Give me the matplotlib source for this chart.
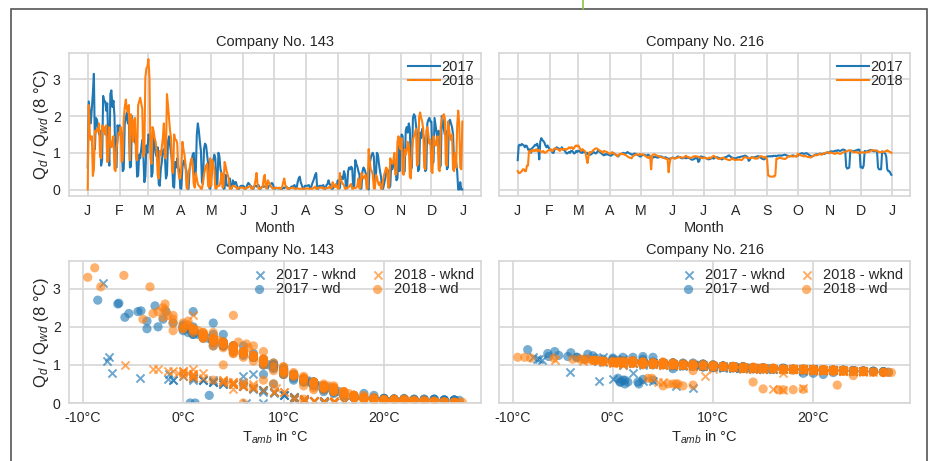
import numpy as np
import pandas as pd
import matplotlib
matplotlib.use("Agg")
import matplotlib.pyplot as plt
from matplotlib.ticker import FuncFormatter
from matplotlib.patches import Rectangle
from matplotlib.lines import Line2D

plt.rcParams.update({
    "font.family": ["Liberation Sans", "DejaVu Sans"],
    "font.size": 10.5,
    "xtick.labelsize": 10.2,
    "ytick.labelsize": 10.2,
    "mathtext.fontset": "custom",
    "mathtext.rm": "Liberation Sans",
    "mathtext.it": "Liberation Sans:italic",
    "mathtext.bf": "Liberation Sans:bold",
    "text.color": "#262626",
    "axes.labelcolor": "#262626",
    "xtick.color": "#262626",
    "ytick.color": "#262626",
    "xtick.major.size": 0,
    "ytick.major.size": 0,
    "xtick.major.pad": 6,
    "ytick.major.pad": 6,
})

# daily values, one line per month (Jan .. Dec)
temp_2017 = np.array("""
2 1 3 4 -2 -6.4 -8 -7.6 -3.6 0 2 4 3 1 -7.1 -2.8 -1.7 -4.5 -3.6 -5.4 -7.4 -4.3 -6.5 -8.5 -5.8 -4.2 -2.5 -1 1 2 3
2 3 4 5 3 1 0 -1 1 0.5 -1 -1.5 0 2 4 6 7 8 7 9 10 8 6 9 10 8 7 9
6 5 7 8 6 5 7 9 10 8 11 12 13 11 9 8 10 9 7 6 5 7 9 11 12 13 11 12 10 12 13
14 15 12 11 10 12 13 15 16 13 11 10 9 8 7 6 5 3 4 6 8 10 11 8 6 7 9 11 13 15
14 12 10 9 10 12 11 9 10 12.5 14 15 19 17 14.5 20 22 21 15.5 14 15 18 20 19 16 21 24 25 26 24 20
21 23 24 22 19 17 18 20 22 23 24 22 21 24 23 20 22 25 27 27.5 27 26 22 19 20 21 19 17 16 18
19 20 22 24 26 27 26 25 24 23 25 21 19 20 21 22 24 26 27 25 22 20 19 17 15 14 17 19 21 23 24
25 23 21 20 19 18 17 16 15 14 13.5 16 18 20 22 21 20 19 21 20 18 17 15 17 19 22 24 26 27 25 20
16 15 14 15 14 15 13 14 13 14 13 12 13 12 12.5 12 11 10 11 12 13 14 15 14 13 12 13 14 15 13
14 11 10 9 8.5 9 10 9 8 9 11 13 15 17 18 17 15 13 12 13 12 11 10 12 11 10 11 9 8 7 9
7 5 5 6 5 4 3 4 2 3 4 3 1 0 1 2 3 4 3 4 5 3 4 5 4 3 2 1 0 1
1 0 -1.4 0.5 2 4 5 3 2 1 0 1 3 4 3 4 2 1.2 0.8 1.5 2.5 4 6 7 8 6 0.7 1.2 2.6 6.3 8
""".split(), dtype=float)

temp_2018 = np.array("""
6 5 7 8 6.5 5 4.5 5.5 6.3 3.5 3.9 2 1 0 2 4 3 5 2 1 0.5 3 6 8 7 5 6 7 8 6 4
3 2 1 0 -1 -2 -1.8 -1 0 1 2 0.5 1.5 5 2 1 0 -0.5 -1.5 -2.5 -2 -3 -4 -3 -5.8 -8.2 -9.5 -5.9
-8.8 -3.3 -1 1 2 3 5 6 8 9.2 10 9 10 8 5 2 -1.5 -2.5 -1.8 -1 1 3 5 6 7 4 5 6 7 9 10
9 8 6 8 10 12 15 18 14 13 11 10 12 11 13 14 16 19 21 22 23 24 18 15 13 12 11 12 13 10
12 11 12 13 15 18 20 22 21 16 14 13 12 11 12 14 15 16 17 19 20 21 22 23 24 25 24 22.4 24 25 23
23 24 25 23 22 21 20 19 20 21 22 19 16 14.5 17 19 20 21 22 20 16 15 14 15 16 17 18 20 22 24
22 21 22 23 24 22 21 23 20 17 15 18 20 22 24 25 24 23 22 21 23 24 25 26 27 27.5 27.8 25 23 25 27
27 26 25 26 25 26 27 25 21 19 18 20 21 22 21 22 20 19 21 23 22 23 22 19 17 15 16 18 20 17 18
17 16 15 16.5 17 18 19 17 19 21 22 20 18 17 20 21 22 23 22 19 15 14 13 12 13 15 14 13 15 14
8 10 12 13 14 15 16 14 15 17 18 17 19 18 16 14 13 12 13 12 11 9 10 11 10 8 7 6 5 4 6
7 5 6 7 8 9 8 6 7 8 9 8 6 5 4 3 2 1 0 -1 0 1 3 4 5 4 3 5 7 6
5 6 5 6 7 6 5 4 5 3 1 0 0.5 1 0 1 2 3 5 6 5 4 5 4 3 2 0.5 2 4 5 3
""".split(), dtype=float)

q143_2017 = np.array("""
0.6 2.4 2.1 1.8 2.2 2.62 3.15 1.1 1.95 1.9 1.7 1.5 1.6 0.65 0.8 2.55 2.4 2.4 2.15 2.35 1.2 0.65 2.6 2.7 2.25 2.42 2.0 0.6 0.6 1.75 1.6
1.75 1.65 1.55 0.5 0.55 1.8 1.95 2.1 1.8 1.85 0.6 0.62 2.0 1.75 1.55 1.3 1.2 0.35 0.38 0.95 0.85 1.1 1.35 1.0 0.2 0.35 1.2 1.0
1.5 1.45 1.3 0.35 0.45 1.5 1.25 1.0 0.9 1.15 0.15 0.1 0.55 0.75 1.05 1.1 0.9 0.3 0.4 1.3 1.45 1.2 1.0 0.75 0.08 0.05 0.75 0.6 0.85 0.6 0.5
0.03 0.02 0.6 0.75 0.8 0.6 0.5 0.02 0.02 0.55 0.7 0.8 0.95 1.0 0.4 0.45 1.5 1.8 1.6 1.3 1.05 0.2 0.15 1.1 1.25 1.2 0.95 0.7 0.05 0.02
0.3 0.6 0.8 0.95 0.85 0.1 0.15 1.0 0.9 0.55 0.45 0.35 0.02 0.03 0.4 0.12 0.1 0.1 0.3 0.05 0.03 0.25 0.1 0.2 0.2 0.1 0.02 0.02 0.08 0.1 0.1
0.1 0.08 0.02 0.03 0.12 0.18 0.15 0.1 0.09 0.02 0.02 0.1 0.1 0.08 0.1 0.12 0.03 0.02 0.07 0.07 0.08 0.08 0.1 0.04 0.03 0.1 0.12 0.15 0.18 0.14
0.03 0.02 0.05 0.04 0.03 0.03 0.04 0.02 0.02 0.05 0.04 0.06 0.07 0.05 0.02 0.02 0.05 0.08 0.08 0.1 0.12 0.03 0.04 0.2 0.3 0.35 0.2 0.12 0.03 0.02 0.1
0.1 0.1 0.11 0.12 0.03 0.04 0.15 0.22 0.3 0.4 0.45 0.03 0.02 0.1 0.1 0.1 0.1 0.12 0.02 0.02 0.12 0.15 0.25 0.15 0.12 0.02 0.02 0.08 0.08 0.1 0.1
0.25 0.03 0.04 0.3 0.35 0.28 0.5 0.4 0.05 0.03 0.5 0.6 0.55 0.62 0.58 0.05 0.1 0.8 0.7 0.62 0.5 0.4 0.02 0.03 0.5 0.6 0.55 0.45 0.35 0.05
0.0 0.7 0.85 0.95 1.0 0.9 0.2 0.3 1.0 0.95 0.7 0.5 0.35 0.02 0.02 0.15 0.3 0.45 0.55 0.5 0.05 0.1 0.75 0.55 0.65 0.75 0.6 0.25 0.3 1.2 0.5
1.2 1.5 1.45 0.45 0.5 1.6 1.7 1.55 1.8 1.65 0.55 0.6 1.95 2.05 2.0 1.75 1.5 0.5 0.55 1.55 1.4 1.65 1.5 1.35 0.5 0.55 1.8 1.9 1.95 1.85
1.85 0.7 0.75 1.95 1.75 1.55 1.4 1.6 0.6 0.65 2.0 1.9 1.65 1.5 1.6 0.55 0.6 1.85 1.9 1.8 1.7 1.5 0.7 0.75 0.75 0.5 0.0 0.0 0.2 0.0 0.0
""".split(), dtype=float)

q143_2018 = np.array("""
0.0 2.3 1.5 1.35 1.45 0.37 0.55 1.6 1.55 1.65 1.6 1.8 0.9 0.85 1.75 1.6 1.7 1.5 1.75 0.75 0.8 1.7 1.35 1.15 1.25 1.45 0.55 0.5 1.15 1.3 1.55
1.5 1.7 0.75 0.8 1.9 2.25 2.45 2.2 2.1 2.3 0.8 2.05 1.9 1.3 1.85 1.95 0.85 0.8 2.3 2.4 2.5 2.35 2.2 0.9 1.0 3.05 3.3 3.35
3.55 3.05 0.85 0.7 1.7 1.6 1.4 1.3 1.05 0.4 0.3 1.05 0.95 1.15 1.4 1.8 0.85 0.9 2.6 2.3 1.95 1.6 1.4 0.5 0.45 1.5 1.35 1.35 1.25 0.5 0.3
0.3 0.6 1.3 1.1 0.95 0.7 0.05 0.02 0.45 0.55 0.75 0.85 0.65 0.15 0.05 0.45 0.3 0.15 0.1 0.08 0.02 0.02 0.2 0.4 0.55 0.65 0.7 0.1 0.05 0.85
0.1 0.8 0.65 0.55 0.03 0.02 0.1 0.1 0.1 0.2 0.45 0.05 0.1 0.75 0.65 0.5 0.4 0.3 0.02 0.02 0.05 0.1 0.1 0.08 0.08 0.02 0.02 0.05 0.05 0.05 0.05
0.05 0.02 0.02 0.05 0.05 0.06 0.08 0.1 0.02 0.02 0.05 0.1 0.25 0.45 0.15 0.02 0.02 0.05 0.05 0.08 0.3 0.4 0.05 0.03 0.25 0.2 0.15 0.08 0.05 0.02
0.02 0.05 0.05 0.04 0.04 0.05 0.02 0.02 0.08 0.2 0.3 0.12 0.08 0.02 0.02 0.03 0.04 0.04 0.05 0.05 0.02 0.02 0.03 0.03 0.02 0.02 0.02 0.02 0.02 0.03 0.02
0.02 0.03 0.03 0.02 0.02 0.03 0.02 0.03 0.05 0.08 0.02 0.02 0.05 0.05 0.05 0.05 0.06 0.02 0.02 0.04 0.04 0.04 0.05 0.08 0.03 0.04 0.2 0.1 0.06 0.15 0.1
0.02 0.03 0.45 0.25 0.2 0.15 0.12 0.02 0.02 0.05 0.05 0.08 0.12 0.15 0.02 0.02 0.05 0.04 0.05 0.1 0.3 0.03 0.05 0.45 0.35 0.3 0.35 0.4 0.02 0.03
1.1 0.8 0.55 0.5 0.4 0.03 0.02 0.4 0.35 0.2 0.12 0.2 0.02 0.02 0.25 0.4 0.5 0.6 0.55 0.05 0.1 0.85 0.75 0.7 0.8 1.0 0.4 0.45 1.3 1.45 1.2
1.1 1.4 0.45 0.4 1.1 0.95 1.05 1.3 1.2 0.35 0.3 1.1 1.35 1.45 1.55 1.65 0.65 0.7 1.95 2.1 1.95 1.85 1.65 0.6 0.55 1.6 1.7 1.5 1.25 1.35
0.5 0.45 1.45 1.35 1.2 1.3 1.45 0.55 0.5 1.7 1.9 2.0 2.05 1.95 0.7 0.65 1.85 1.7 1.45 1.35 1.5 0.55 0.5 1.0 0.6 1.75 2.15 1.8 0.6 0.55 1.85
""".split(), dtype=float)

q216_2017 = np.array("""
0.8 1.2 1.22 1.2 1.24 1.22 1.2 1.15 1.2 1.18 1.1 1.05 1.1 1.0 1.12 1.15 1.18 1.22 1.2 1.25 1.15 0.82 1.3 1.4 1.35 1.32 1.28 1.2 1.15 1.2 1.15
1.1 1.08 1.05 1.0 1.0 1.1 1.12 1.15 1.1 1.12 1.08 1.1 1.15 1.1 1.08 1.05 1.0 0.98 1.0 1.02 1.0 1.05 1.05 1.02 0.98 1.0 1.05 1.02
1.05 1.05 1.02 1.0 1.0 1.05 1.02 1.0 0.98 1.0 0.95 0.95 0.95 0.97 1.0 1.02 1.0 0.98 1.0 1.05 1.05 1.02 1.0 0.97 0.95 0.93 0.96 0.95 0.97 0.95 0.94
0.93 0.92 0.95 0.96 0.98 0.95 0.94 0.92 0.9 0.95 0.96 0.97 0.98 1.0 0.98 0.98 1.0 1.02 1.0 0.98 0.97 0.95 0.95 0.97 0.98 0.97 0.95 0.94 0.92 0.9
0.9 0.93 0.94 0.95 0.94 0.92 0.92 0.95 0.93 0.92 0.9 0.9 0.87 0.88 0.9 0.88 0.87 0.87 0.9 0.9 0.9 0.88 0.87 0.87 0.88 0.86 0.85 0.84 0.83 0.85 0.86
0.87 0.86 0.85 0.86 0.88 0.9 0.89 0.88 0.86 0.85 0.85 0.86 0.87 0.85 0.86 0.88 0.86 0.84 0.82 0.81 0.82 0.83 0.86 0.85 0.86 0.75 0.78 0.9 0.9 0.88
0.88 0.87 0.86 0.84 0.83 0.82 0.83 0.84 0.85 0.86 0.84 0.87 0.88 0.88 0.87 0.86 0.85 0.83 0.82 0.84 0.86 0.88 0.88 0.9 0.92 0.93 0.9 0.88 0.87 0.86 0.85
0.84 0.86 0.87 0.88 0.88 0.89 0.9 0.9 0.91 0.92 0.92 0.9 0.88 0.78 0.8 0.87 0.88 0.88 0.87 0.88 0.89 0.9 0.91 0.9 0.88 0.86 0.84 0.83 0.82 0.84 0.88
0.9 0.9 0.91 0.9 0.91 0.9 0.92 0.91 0.92 0.91 0.92 0.93 0.92 0.93 0.92 0.93 0.94 0.95 0.94 0.93 0.92 0.91 0.9 0.91 0.92 0.93 0.92 0.91 0.9 0.92
0.92 0.96 0.97 0.98 0.99 0.98 0.97 0.98 0.99 0.98 0.96 0.94 0.92 0.9 0.9 0.92 0.93 0.95 0.96 0.95 0.96 0.97 0.98 0.96 0.97 0.98 0.97 0.99 1.0 1.01 0.99
1.02 1.04 1.04 1.03 1.04 1.05 1.06 1.05 1.07 1.06 1.05 1.06 1.08 1.09 1.08 1.07 0.62 0.57 0.58 0.6 1.05 1.06 1.05 1.04 1.05 1.06 1.07 1.08 1.09 1.08
0.6 0.62 0.58 0.65 1.05 1.04 1.03 1.05 1.06 1.07 1.08 1.07 1.05 1.04 1.05 1.04 1.06 0.6 0.55 0.55 0.55 1.04 1.02 1.0 0.98 0.9 0.55 0.5 0.5 0.45 0.4
""".split(), dtype=float)

q216_2018 = np.array("""
0.5 0.45 0.45 0.47 0.5 0.55 0.55 0.5 0.5 0.65 0.65 1.05 1.0 1.05 1.08 1.05 1.07 1.05 1.1 1.05 1.05 1.08 1.05 1.02 1.03 1.05 1.0 1.0 1.02 1.05 1.07
1.07 1.1 1.05 1.05 1.1 1.12 1.12 1.1 1.1 1.08 1.05 1.1 1.1 1.08 1.1 1.1 1.08 1.1 1.12 1.15 1.12 1.15 1.15 1.1 1.13 1.18 1.2 1.18
1.2 1.15 1.1 1.05 1.1 1.08 1.05 1.03 0.85 0.72 0.9 1.02 1.0 1.02 1.05 1.08 1.1 1.12 1.12 1.1 1.08 1.05 1.05 1.02 1.0 1.05 1.04 1.03 1.02 1.0 0.98
0.98 0.98 1.02 1.0 0.98 0.96 0.93 0.9 0.94 0.95 0.97 0.98 0.96 0.97 0.95 0.94 0.92 0.9 0.88 0.87 0.86 0.85 0.9 0.92 0.94 0.95 0.96 0.95 0.94 0.97
0.95 0.96 0.95 0.94 0.92 0.9 0.88 0.86 0.87 0.91 0.55 0.93 0.95 0.96 0.95 0.93 0.92 0.91 0.9 0.88 0.88 0.87 0.86 0.85 0.84 0.83 0.84 0.47 0.72 0.84 0.86
0.86 0.85 0.84 0.85 0.86 0.87 0.88 0.88 0.88 0.87 0.86 0.88 0.9 0.92 0.89 0.88 0.87 0.87 0.86 0.87 0.9 0.9 0.91 0.9 0.9 0.89 0.88 0.87 0.86 0.85
0.86 0.87 0.86 0.85 0.84 0.86 0.87 0.85 0.88 0.9 0.92 0.89 0.88 0.86 0.84 0.83 0.84 0.85 0.86 0.87 0.85 0.84 0.83 0.82 0.81 0.8 0.8 0.83 0.85 0.83 0.81
0.8 0.81 0.82 0.81 0.82 0.81 0.8 0.82 0.86 0.88 0.88 0.87 0.86 0.85 0.86 0.85 0.87 0.88 0.86 0.84 0.85 0.84 0.85 0.88 0.9 0.91 0.9 0.88 0.87 0.89 0.88
0.8 0.38 0.37 0.35 0.35 0.35 0.36 0.35 0.4 0.85 0.84 0.85 0.86 0.86 0.85 0.84 0.84 0.83 0.84 0.86 0.9 0.9 0.9 0.92 0.9 0.9 0.9 0.92 0.9 0.9
0.98 0.96 0.94 0.93 0.92 0.91 0.9 0.92 0.91 0.89 0.88 0.89 0.87 0.88 0.9 0.92 0.93 0.94 0.93 0.94 0.95 0.97 0.96 0.95 0.96 0.98 0.99 1.0 1.01 1.02 1.0
0.99 1.01 1.0 0.99 0.98 0.97 0.98 1.0 0.99 0.98 0.97 0.98 1.0 1.01 1.02 1.03 1.04 1.05 1.06 1.07 1.06 1.05 1.03 1.02 1.01 1.02 1.03 1.01 0.99 1.0
1.01 1.0 1.02 1.01 1.0 1.01 1.02 1.03 1.02 1.04 1.06 1.07 1.07 1.06 1.07 1.06 1.05 1.04 1.02 1.01 1.02 1.03 1.02 1.03 1.04 1.05 1.07 1.05 1.03 1.02 1.0
""".split(), dtype=float)

month_letters = ["J", "F", "M", "A", "M", "J", "J", "A", "S", "O", "N", "D", "J"]
month_starts = [0, 31, 59, 90, 120, 151, 181, 212, 243, 273, 304, 334, 365]
temp_ticks = [-10, 0, 10, 20]

C17 = "#1f77b4"
C18 = "#ff7f0e"
GRID = "#d6d6d6"
YLABEL = "Q$_{d}$ / Q$_{wd}$ (8 °C)"

wknd_2017 = np.asarray(pd.date_range("2017-01-01", "2017-12-31").dayofweek >= 5)
wknd_2018 = np.asarray(pd.date_range("2018-01-01", "2018-12-31").dayofweek >= 5)
days = np.arange(365)


def style_axes(ax):
    ax.grid(True, color=GRID, lw=1.2)
    ax.set_axisbelow(True)
    for sp in ax.spines.values():
        sp.set_color(GRID)
        sp.set_linewidth(1.2)


fig = plt.figure(figsize=(9.31, 4.61), dpi=100)
ax_ts143 = fig.add_axes([0.0741, 0.5748, 0.4426, 0.3109])
ax_ts216 = fig.add_axes([0.536, 0.5748, 0.4415, 0.3109], sharey=ax_ts143)
ax_sc143 = fig.add_axes([0.0741, 0.1258, 0.4426, 0.308])
ax_sc216 = fig.add_axes([0.536, 0.1258, 0.4415, 0.308], sharey=ax_sc143)

series = [
    (ax_ts143, ax_sc143, "143", q143_2017, q143_2018),
    (ax_ts216, ax_sc216, "216", q216_2017, q216_2018),
]

for ax_ts, ax_sc, name, q17, q18 in series:
    # time series
    style_axes(ax_ts)
    ax_ts.plot(days, q17, color=C17, lw=1.5, label="2017")
    ax_ts.plot(days, q18, color=C18, lw=1.5, label="2018")
    ax_ts.set_xticks(month_starts)
    ax_ts.set_xticklabels(month_letters)
    ax_ts.set_yticks([0, 1, 2, 3])
    ax_ts.set_xlabel("Month", labelpad=2)
    ax_ts.set_title("Company No. " + name, fontsize=10.5, pad=5)
    ax_ts.legend(loc="upper right", frameon=False, handlelength=2.2,
                 handletextpad=0.05, labelspacing=0.0, borderpad=0.3,
                 borderaxespad=0.2)

    # scatter against ambient temperature
    style_axes(ax_sc)
    for year, t, q, wk, c in [("2017", temp_2017, q17, wknd_2017, C17),
                              ("2018", temp_2018, q18, wknd_2018, C18)]:
        ax_sc.scatter(t[wk], q[wk], marker="x", color=c, alpha=0.65, s=34,
                      linewidths=1.4, label=year + " - wknd")
        ax_sc.scatter(t[~wk], q[~wk], marker="o", color=c, alpha=0.6, s=44,
                      edgecolors="none", label=year + " - wd")
    ax_sc.set_xticks(temp_ticks)
    ax_sc.xaxis.set_major_formatter(FuncFormatter(lambda v, p: f"{v:.0f}°C"))
    ax_sc.set_yticks([0, 1, 2, 3])
    ax_sc.set_xlabel("T$_{amb}$ in °C", labelpad=2)
    ax_sc.set_title("Company No. " + name, fontsize=10.5, pad=5)
    ax_sc.legend(loc="upper right", frameon=False, ncol=2, handlelength=1.0,
                 handletextpad=0.6, labelspacing=0.0, columnspacing=1.0,
                 borderpad=0.3, borderaxespad=0.2)

ax_sc143.set_ylim(bottom=0)
ax_ts143.set_ylabel(YLABEL, fontsize=12, labelpad=1)
ax_sc143.set_ylabel(YLABEL, fontsize=12, labelpad=1)
ax_ts216.tick_params(labelleft=False)
ax_sc216.tick_params(labelleft=False)

# page frame around the figure
fig.patches.append(Rectangle((0.0118, -0.02), 0.9839, 1.0, transform=fig.transFigure,
                             fill=False, edgecolor="#555555", lw=1.2))
fig.lines.append(Line2D([0.6259, 0.6259], [0.981, 1.0], transform=fig.transFigure,
                        color="#8dc63f", lw=1.2))

fig.savefig("out.png", dpi=100)
